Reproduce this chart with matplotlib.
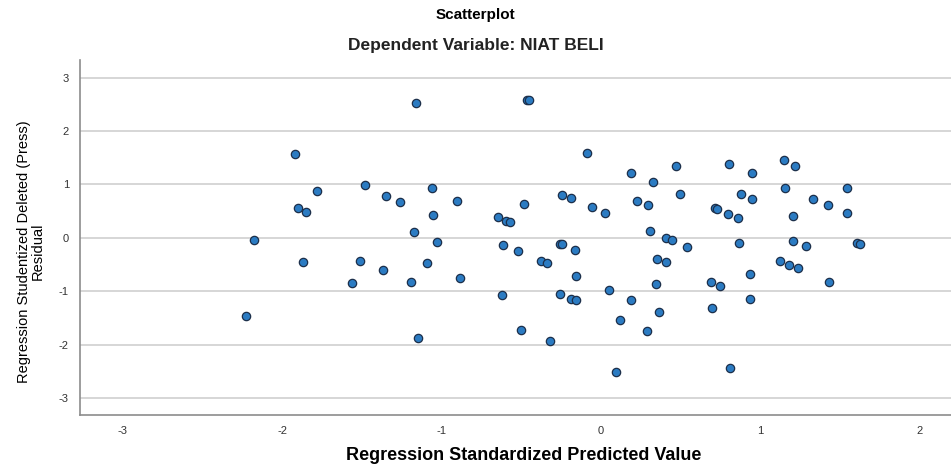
import matplotlib
matplotlib.use("Agg")
import matplotlib.pyplot as plt

# values
pred = [-1.92, -1.78, -1.90, -1.85, -2.18, -1.87, -1.51, -2.23, -1.56,
        -1.16, -0.46, -0.45, -0.084, 0.19, -1.48, -1.35, -1.26, -1.06, -0.90,
        -1.05, -1.17, -1.03, -0.645, -0.596, -0.57, -0.483, -0.243, -0.188,
        -0.052, 0.027, 0.23, -0.613, -0.517, -0.257, -0.243, -0.16,
        -1.37, -1.09, -1.19, -0.883, -0.377, -0.335, -0.155, -0.62, -0.257,
        -0.188, -0.155, 0.05, 0.19, 0.12, -0.50, -0.32, -1.15, 0.094,
        0.47, 0.805, 0.95, 1.15, 1.22, 0.33, 0.50, 0.295, 0.883, 0.95,
        1.157, 1.544, 1.335, 1.43, 0.72, 0.73, 0.80, 0.86, 1.205, 1.544,
        0.31, 0.41, 0.45, 0.544, 0.87, 1.207, 1.287, 1.61, 1.626,
        0.356, 0.41, 1.125, 1.184, 1.237, 0.94, 0.35, 0.69, 0.75, 1.435,
        0.366, 0.70, 0.94, 0.29, 0.81]
resid = [1.56, 0.88, 0.55, 0.48, -0.04, -0.45, -0.43, -1.46, -0.85,
         2.52, 2.58, 2.58, 1.59, 1.22, 0.99, 0.79, 0.67, 0.94, 0.69,
         0.42, 0.10, -0.07, 0.39, 0.31, 0.29, 0.64, 0.81, 0.74,
         0.58, 0.47, 0.69, -0.14, -0.25, -0.12, -0.12, -0.22,
         -0.60, -0.48, -0.82, -0.75, -0.43, -0.48, -0.72, -1.07, -1.06,
         -1.15, -1.17, -0.97, -1.17, -1.54, -1.72, -1.93, -1.88, -2.52,
         1.34, 1.39, 1.22, 1.45, 1.34, 1.04, 0.82, 0.62, 0.82, 0.73,
         0.94, 0.93, 0.72, 0.61, 0.56, 0.54, 0.44, 0.37, 0.41, 0.46,
         0.125, -0.005, -0.05, -0.17, -0.105, -0.06, -0.16, -0.09, -0.12,
         -0.40, -0.46, -0.43, -0.505, -0.575, -0.67, -0.86, -0.82, -0.90, -0.82,
         -1.39, -1.32, -1.14, -1.75, -2.44]

x_ticks = [-3, -2, -1, 0, 1, 2]
y_ticks = [-3, -2, -1, 0, 1, 2, 3]

plt.rcParams["font.family"] = ["Liberation Sans", "DejaVu Sans"]
plt.rcParams["axes.unicode_minus"] = False

fig = plt.figure(figsize=(9.51, 4.65), dpi=100)
ax = fig.add_axes([0.0841, 0.1075, 0.9159, 0.7635])

ax.scatter(pred, resid, s=36, facecolor="#2b7bc2", edgecolor="#1c2f4a",
           linewidth=0.9, zorder=3)

ax.set_xlim(-3.27, 2.2)
ax.set_ylim(-3.32, 3.33)
ax.set_xticks(x_ticks)
ax.set_yticks(y_ticks)
ax.tick_params(length=0, labelsize=8, colors="#333333", pad=8)
ax.grid(axis="y", color="#d0d0d0", linewidth=1.2)
ax.set_axisbelow(True)
for s in ["top", "right"]:
    ax.spines[s].set_visible(False)
for s in ["left", "bottom"]:
    ax.spines[s].set_color("#8c8c8c")
    ax.spines[s].set_linewidth(1.2)

ax.set_ylabel("Regression Studentized Deleted (Press)\nResidual", fontsize=10.5,
              linespacing=1.0)
ax.yaxis.set_label_coords(-0.040, 0.46)

fig.text(0.551, 0.0215, "Regression Standardized Predicted Value",
         ha="center", va="center", fontsize=13, fontweight="bold")
fig.text(0.5, 0.967, "Scatterplot", ha="center", va="center",
         fontsize=11, fontweight="bold")
fig.text(0.5, 0.903, "Dependent Variable: NIAT BELI", ha="center",
         va="center", fontsize=12.5, fontweight="bold", color="#222222")

fig.savefig("out.png", dpi=100)
